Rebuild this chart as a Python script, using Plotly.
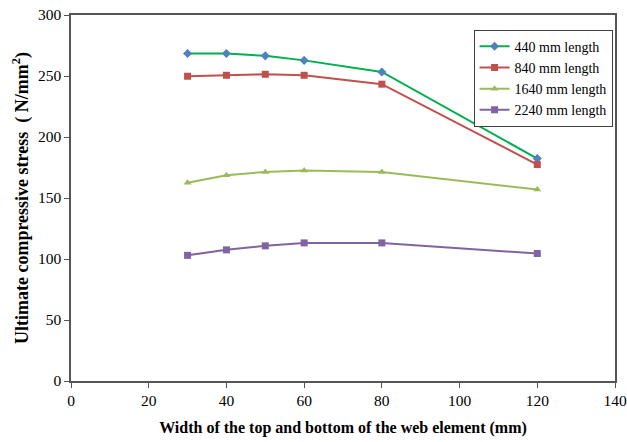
import plotly.graph_objects as go

widths = [30, 40, 50, 60, 80, 120]
s440 = [268.5, 268.5, 266.5, 262.8, 253.3, 182.3]
s840 = [249.8, 250.6, 251.4, 250.6, 243.3, 177.4]
s1640 = [162.5, 168.7, 171.4, 172.6, 171.3, 157.0]
s2240 = [103.0, 107.5, 110.8, 113.2, 113.2, 104.5]

series = [
    ("440 mm length", s440, "#00B050", "#4F81BD", "diamond", 7),
    ("840 mm length", s840, "#C0504D", "#C0504D", "square", 7),
    ("1640 mm length", s1640, "#9BBB59", "#9BBB59", "triangle-up", 7),
    ("2240 mm length", s2240, "#8064A2", "#8064A2", "square", 7),
]

fig = go.Figure()
for name, ys, lc, mc, sym, ms in series:
    fig.add_trace(go.Scatter(
        x=widths, y=ys, name=name, mode="lines+markers",
        line=dict(color=lc, width=2),
        marker=dict(color=mc, symbol=sym, size=ms),
    ))

font = "Liberation Serif, Times New Roman, serif"
fig.update_layout(
    width=627, height=442,
    margin=dict(l=71, r=12, t=15, b=61),
    paper_bgcolor="white", plot_bgcolor="white",
    font=dict(family=font, size=14, color="black"),
    showlegend=True,
    legend=dict(
        x=0.74, y=0.96, xanchor="left", yanchor="top",
        bgcolor="white", bordercolor="#404040", borderwidth=1,
        font=dict(family=font, size=14),
        tracegroupgap=0, itemwidth=30,
    ),
    xaxis=dict(
        range=[0, 140], dtick=20, showgrid=False, zeroline=False, automargin=False,
        showline=True, linecolor="#555555", linewidth=1.5, mirror=True,
        ticks="outside", ticklen=5, tickcolor="#555555",
        tickfont=dict(family=font, size=15.5),
        title=dict(text="<b>Width of the top and bottom of the web element (mm)</b>",
                   font=dict(family=font, size=16), standoff=13),
    ),
    yaxis=dict(
        range=[0, 300], dtick=50, showgrid=False, zeroline=False, automargin=False,
        showline=True, linecolor="#555555", linewidth=1.5, mirror=True,
        ticks="outside", ticklen=5, tickcolor="#555555",
        tickfont=dict(family=font, size=15.5),
        title=dict(text="<b>Ultimate compressive stress  ( N/mm<sup>2</sup>)</b>",
                   font=dict(family=font, size=18), standoff=5),
    ),
)

fig.write_html("out.html")
